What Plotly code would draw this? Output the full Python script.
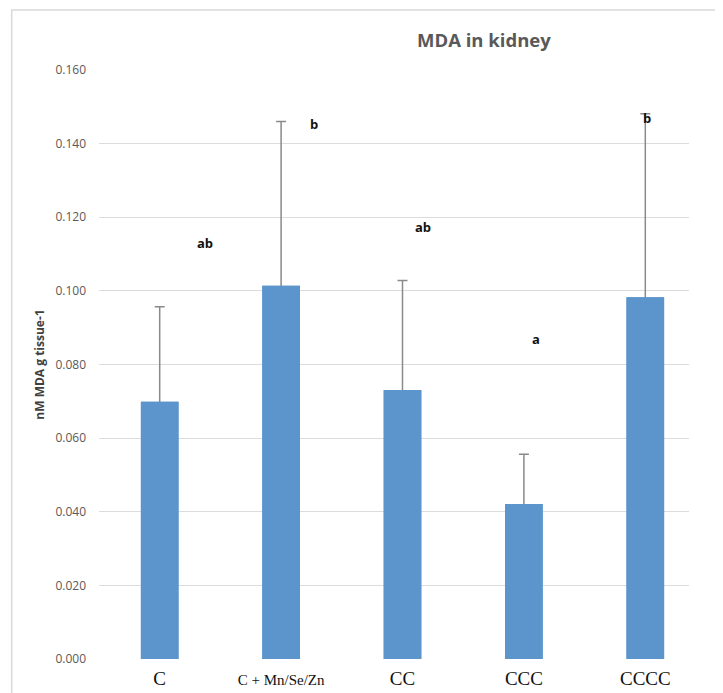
import plotly.graph_objects as go

categories = ["C", "C + Mn/Se/Zn", "CC", "CCC", "CCCC"]
mda_mean = [0.0699, 0.1014, 0.0731, 0.0421, 0.0983]
mda_err_plus = [0.0258, 0.0446, 0.0297, 0.0135, 0.0498]
letters = ["ab", "b", "ab", "a", "b"]
letter_y = [0.1131, 0.1454, 0.1174, 0.0870, 0.1470]
letter_x_offset = [0.37, 0.27, 0.17, 0.10, 0.01]
y_ticks = [0.0, 0.02, 0.04, 0.06, 0.08, 0.10, 0.12, 0.14, 0.16]
y_tick_labels = ["0.000", "0.020", "0.040", "0.060", "0.080", "0.100", "0.120", "0.140", "0.160"]

x_idx = list(range(len(categories)))
tick_text = [c if len(c) < 6 else f'<span style="font-size:15px">{c}</span>' for c in categories]

BAR_COLOR = "#5B95CC"
fig = go.Figure()
# bar carrying the (upper) error bars; lower half of the whisker is hidden by the overlay bar
fig.add_trace(go.Bar(
    x=x_idx, y=mda_mean, width=0.31,
    marker=dict(color=BAR_COLOR, line=dict(width=0)),
    error_y=dict(type="data", symmetric=False, array=mda_err_plus,
                 arrayminus=[m / 2 for m in mda_mean],
                 color="#8a8a8a", thickness=1.5, width=5),
    hoverinfo="skip",
))
fig.add_trace(go.Bar(
    x=x_idx, y=mda_mean, width=0.31,
    marker=dict(color=BAR_COLOR, line=dict(width=0)),
    hovertemplate="%{y:.3f}<extra></extra>",
))

annotations = []
for i, (t, yv, dx) in enumerate(zip(letters, letter_y, letter_x_offset)):
    annotations.append(dict(x=i + dx, y=yv, xref="x", yref="y", text=f"<b>{t}</b>",
                            showarrow=False, font=dict(family="Open Sans, Liberation Sans, sans-serif",
                                                       size=13, color="#111111")))
annotations.append(dict(x=0.6526, y=1.051, xref="paper", yref="paper", yanchor="middle",
                        text="<b>MDA in kidney</b>", showarrow=False,
                        font=dict(family="Open Sans, Liberation Sans, sans-serif",
                                  size=18.5, color="#595959")))

fig.update_layout(
    width=723, height=693,
    margin=dict(l=91, r=42, t=62, b=42),
    paper_bgcolor="white", plot_bgcolor="white",
    showlegend=False, barmode="overlay",
    annotations=annotations,
    shapes=[dict(type="rect", xref="paper", yref="paper", x0=-0.148, x1=1.1, y0=-0.1, y1=1.102,
                 line=dict(color="#d9d9d9", width=1.5), layer="below")],
    xaxis=dict(range=[-0.5, 4.36], tickmode="array", tickvals=x_idx, ticktext=tick_text,
               showgrid=False, zeroline=False, showline=False, ticks="", ticklabelstandoff=6,
               tickfont=dict(family="Liberation Serif, Times New Roman, serif", size=19, color="#111111")),
    yaxis=dict(range=[0, 0.16], tickmode="array", tickvals=y_ticks, ticktext=y_tick_labels,
               showgrid=True, gridcolor="#dcdcdc", gridwidth=1.2, zeroline=False, showline=False,
               ticks="", ticklabelstandoff=12,
               tickfont=dict(family="Open Sans, Liberation Sans, sans-serif", size=12, color="#595959")),
)
fig.update_yaxes(title=dict(text="<b>nM MDA g tissue-1</b>", standoff=8,
                            font=dict(family="Open Sans, Liberation Sans, sans-serif", size=12, color="#404040")))

fig.write_html("out.html")
